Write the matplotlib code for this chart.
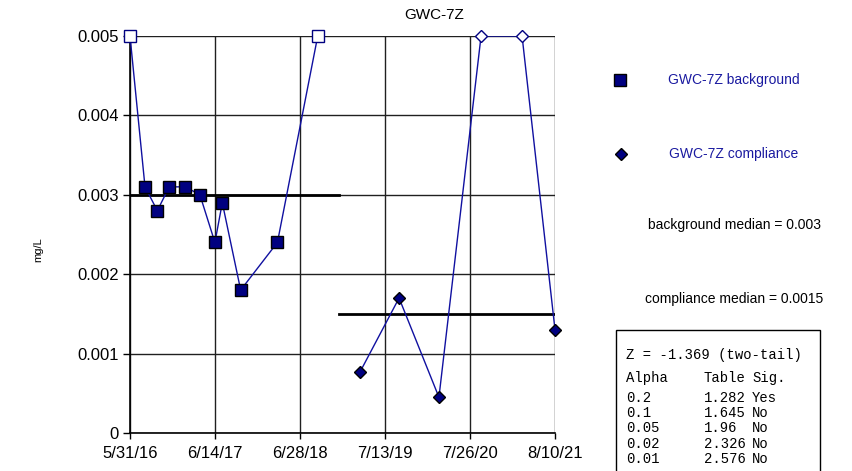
import numpy as np
import pandas as pd
import matplotlib
matplotlib.use("Agg")
import matplotlib.pyplot as plt

plt.rcParams['font.family'] = ['Liberation Sans', 'DejaVu Sans']

# background well data (open marker = non-detect shown at reporting limit)
bg_dates = ["2016-05-31", "2016-08-06", "2016-09-30", "2016-11-22", "2017-02-02",
            "2017-04-08", "2017-06-14", "2017-07-17", "2017-10-07", "2018-03-20",
            "2018-09-16"]
bg_values = [0.005, 0.0031, 0.0028, 0.0031, 0.0031, 0.003, 0.0024, 0.0029,
             0.0018, 0.0024, 0.005]
bg_open = [True, False, False, False, False, False, False, False, False, False, True]

# compliance data
cp_dates = ["2019-03-24", "2019-09-14", "2020-03-10", "2020-09-14", "2021-03-16",
            "2021-08-10"]
cp_values = [0.00077, 0.0017, 0.00045, 0.005, 0.005, 0.0013]
cp_open = [False, False, False, True, True, False]

bg_median = 0.003
cp_median = 0.0015

tick_dates = ["2016-05-31", "2017-06-14", "2018-06-28", "2019-07-13",
              "2020-07-26", "2021-08-10"]
tick_labels = ["5/31/16", "6/14/17", "6/28/18", "7/13/19", "7/26/20", "8/10/21"]

z_text = "Z = -1.369 (two-tail)"
alpha = ["0.2", "0.1", "0.05", "0.02", "0.01"]
table = ["1.282", "1.645", "1.96", "2.326", "2.576"]
sig = ["Yes", "No", "No", "No", "No"]

navy = "#000080"
line_c = "#1010a0"

fig = plt.figure(figsize=(8.52, 4.71), dpi=100)
ax = fig.add_axes([130 / 852, 1 - 433 / 471, 425 / 852, 397 / 471])

bx = pd.to_datetime(bg_dates)
cx = pd.to_datetime(cp_dates)

def draw_series(ax, x, y, opened, marker, ms):
    ax.plot(x, y, color=line_c, lw=1, zorder=3)
    for xi, yi, o in zip(x, y, opened):
        ax.plot([xi], [yi], marker=marker, ms=ms, linestyle="none",
                markerfacecolor="white" if o else navy,
                markeredgecolor=navy if o else "black",
                markeredgewidth=1, zorder=4, clip_on=False)

draw_series(ax, bx, bg_values, bg_open, "s", 8)
draw_series(ax, cx, cp_values, cp_open, "D", 6.5)

# median lines split halfway between last background and first compliance sample
split = bx[-1] + (cx[0] - bx[-1]) / 2
ax.plot([bx[0], split], [bg_median, bg_median], color="black", lw=2, zorder=2)
ax.plot([split, cx[-1]], [cp_median, cp_median], color="black", lw=2, zorder=2)

tx = pd.to_datetime(tick_dates)
ax.set_xlim(tx[0], tx[-1])
ax.set_ylim(0, 0.005)
ax.set_xticks(tx)
ax.set_xticklabels(tick_labels, fontsize=12)
ax.set_yticks([0, 0.001, 0.002, 0.003, 0.004, 0.005])
ax.set_yticklabels(["0", "0.001", "0.002", "0.003", "0.004", "0.005"], fontsize=12)
ax.tick_params(axis="y", direction="out", length=5, width=1, color="black", pad=3)
ax.tick_params(axis="x", direction="out", length=4, width=1, color="black", pad=5)
ax.grid(True, color="#202020", lw=1)
ax.set_axisbelow(True)
for s in ["top", "right"]:
    ax.spines[s].set_visible(False)
for s in ["left", "bottom"]:
    ax.spines[s].set_color("black")
    ax.spines[s].set_linewidth(1.2)

fig.text(434 / 852, 1 - 15 / 471, "GWC-7Z", ha="center", va="center", fontsize=11)
fig.text(38 / 852, 1 - 250 / 471, "mg/L", rotation=90, ha="center", va="center", fontsize=8)

# legend area
fig.lines.append(plt.Line2D([620 / 852], [1 - 80 / 471], transform=fig.transFigure,
                            marker="s", ms=8, markerfacecolor=navy,
                            markeredgecolor="black", linestyle="none"))
fig.lines.append(plt.Line2D([621 / 852], [1 - 154 / 471], transform=fig.transFigure,
                            marker="D", ms=6.5, markerfacecolor=navy,
                            markeredgecolor="black", linestyle="none"))
fig.text(734 / 852, 1 - 80 / 471, "GWC-7Z background", ha="center", va="center",
         fontsize=10, color="#1a1aa0")
fig.text(734 / 852, 1 - 154 / 471, "GWC-7Z compliance", ha="center", va="center",
         fontsize=10, color="#1a1aa0")
fig.text(734 / 852, 1 - 225 / 471, "background median = %g" % bg_median,
         ha="center", va="center", fontsize=10)
fig.text(734 / 852, 1 - 299 / 471, "compliance median = %g" % cp_median,
         ha="center", va="center", fontsize=10)

# stats box
box = plt.Rectangle((616 / 852, -0.02), (820 - 616) / 852, (1 - 330 / 471) + 0.02,
                    transform=fig.transFigure, fill=False, edgecolor="black", lw=1)
fig.patches.append(box)
mono = dict(family="Liberation Mono", fontsize=10, va="center", ha="left")
fig.text(626 / 852, 1 - 355 / 471, z_text, **mono)
rows = [("Alpha", "Table", "Sig.")] + list(zip(alpha, table, sig))
for i, (a, t, s) in enumerate(rows):
    y = 378 if i == 0 else 398 + 15.2 * (i - 1)
    fig.text(626 / 852, 1 - y / 471, a, **mono)
    fig.text(704 / 852, 1 - y / 471, t, **mono)
    fig.text(752 / 852, 1 - y / 471, s, **mono)

fig.savefig("out.png", dpi=100)
